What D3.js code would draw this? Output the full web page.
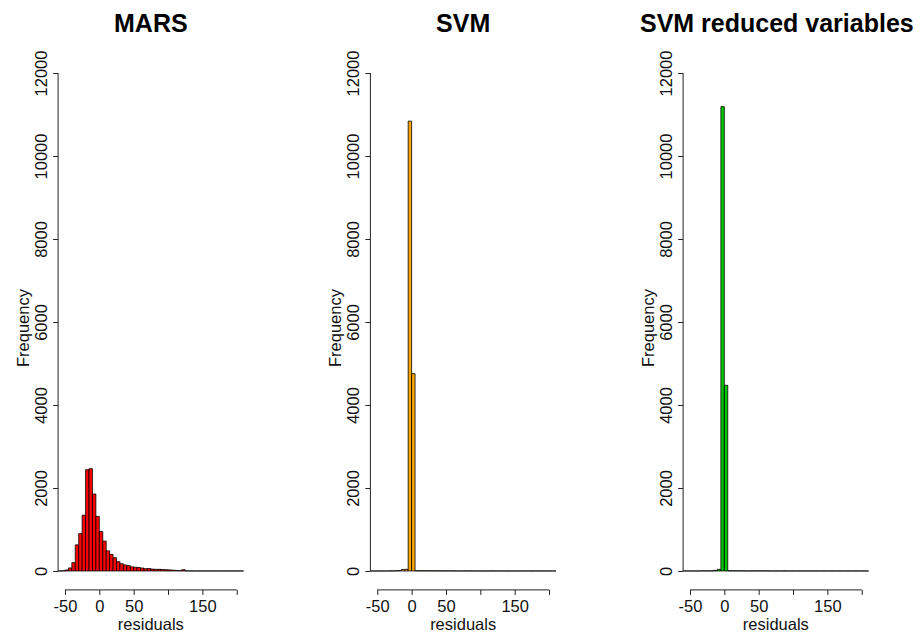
<!DOCTYPE html>
<html>
<head>
<meta charset="utf-8">
<script src="https://cdn.jsdelivr.net/npm/d3@7"></script>
<style>
  html, body { margin: 0; padding: 0; background: #fff; }
  svg { display: block; font-family: "Liberation Sans", Arial, Helvetica, sans-serif; }
</style>
</head>
<body>
<svg id="chart" width="921" height="634"></svg>
<script>
// ---- data ----
const breaks = [-60,-55,-50,-45,-40,-35,-30,-25,-20,-15,-10,-5,0,5,10,15,20,25,30,35,40,45,50,55,60,65,70,75,80,85,90,95,100,105,110,115,120,125,130,135,140,145,150,155,160,165,170,175,180,185,190,195,200,205,210];

const marsCounts = [0,5,24,73,200,630,900,1345,2440,2465,1855,1315,950,720,485,400,320,225,175,145,130,100,90,85,70,55,60,45,40,40,35,30,25,20,12,8,30,3,0,0,0,0,0,0,0,0,0,0,0,0,0,0,0,0];
const svmCounts = [0,0,0,0,0,2,3,5,8,35,40,10840,4755,8,6,5,5,5,5,4,4,3,3,3,2,0,0,3,0,3,0,0,0,0,0,3,0,0,0,0,0,0,0,0,0,0,0,0,0,0,0,0,0,0];
const svmReducedCounts = [0,0,0,0,0,3,3,3,5,15,40,11190,4475,6,5,5,4,4,0,3,3,3,3,3,3,0,0,0,0,3,0,0,0,0,0,0,0,0,0,0,0,0,0,0,0,0,0,0,0,0,0,0,0,0];

const titles = ["MARS", "SVM", "SVM reduced variables"];
const fills = ["#FF0000", "#FFA500", "#00C800"];
const yTickValues = [0, 2000, 4000, 6000, 8000, 10000, 12000];
const xTickValues = [-50, 0, 50, 100, 150, 200];
const xTickLabels = ["-50", "0", "50", "", "150", ""];
const xLabel = "residuals";
const yLabel = "Frequency";

// ---- layout ----
const panelLefts = [58.1, 370.4, 683.1];
const plotWidth = 185.5;
const plotTop = 53.1, plotBottom = 590.9;
const xDomain = [-60, 210];     // R usr with xlim = c(-50, 200)
const yDomain = [-480, 12480];  // R usr with ylim = c(0, 12000)

const svg = d3.select("#chart");
const seriesList = [marsCounts, svmCounts, svmReducedCounts];

seriesList.forEach((counts, i) => {
  const left = panelLefts[i];
  const x = d3.scaleLinear().domain(xDomain).range([left, left + plotWidth]);
  const y = d3.scaleLinear().domain(yDomain).range([plotBottom, plotTop]);
  const g = svg.append("g");

  // bars (as paths so zero-height bins still draw their outline)
  const bins = counts.map((c, k) => ({ x0: breaks[k], x1: breaks[k + 1], c }));
  g.append("g").selectAll("path").data(bins).join("path")
    .attr("d", d => `M${x(d.x0)},${y(0)}H${x(d.x1)}V${y(d.c)}H${x(d.x0)}Z`)
    .attr("fill", fills[i])
    .attr("stroke", "#000")
    .attr("stroke-width", 0.8);

  // y axis
  const yAxis = d3.axisLeft(y).tickValues(yTickValues).tickSize(5).tickFormat(d3.format("d"));
  const ga = g.append("g").attr("transform", `translate(${x(xDomain[0])},0)`).call(yAxis);
  ga.select(".domain").remove();
  ga.append("line").attr("x1", 0).attr("x2", 0)
    .attr("y1", y(yTickValues[0])).attr("y2", y(yTickValues[yTickValues.length - 1]))
    .attr("stroke", "#222");
  ga.selectAll(".tick line").attr("stroke", "#222");
  ga.selectAll(".tick text")
    .attr("transform", "rotate(-90)")
    .attr("x", 0).attr("y", -11.5).attr("dy", 0)
    .attr("text-anchor", "middle")
    .attr("font-size", 16.5).attr("fill", "#111");

  // x axis
  const xAxis = d3.axisBottom(x).tickValues(xTickValues).tickSize(5)
    .tickFormat((d, k) => xTickLabels[k]);
  const gx = g.append("g").attr("transform", `translate(0,${plotBottom - 1})`).call(xAxis);
  gx.select(".domain").remove();
  gx.append("line").attr("x1", x(xTickValues[0])).attr("x2", x(xTickValues[xTickValues.length - 1]))
    .attr("y1", 0).attr("y2", 0).attr("stroke", "#222");
  gx.selectAll(".tick line").attr("stroke", "#222");
  gx.selectAll(".tick text")
    .attr("y", 22).attr("dy", 0)
    .attr("font-size", 16.5).attr("fill", "#111");

  const cx = left + plotWidth / 2;
  // x label
  g.append("text").attr("x", cx).attr("y", 630)
    .attr("text-anchor", "middle").attr("font-size", 16.5).attr("fill", "#111")
    .text(xLabel);
  // y label
  g.append("text").attr("transform", `translate(${left - 29},${(y(0) + y(12000)) / 2 + 6}) rotate(-90)`)
    .attr("text-anchor", "middle").attr("font-size", 16.5).attr("fill", "#111")
    .text(yLabel);
  // title
  g.append("text").attr("x", cx + (i === 2 ? 1 : 0)).attr("y", 32)
    .attr("text-anchor", "middle").attr("font-size", 25).attr("font-weight", "bold").attr("fill", "#000")
    .text(titles[i]);
});
</script>
</body>
</html>
